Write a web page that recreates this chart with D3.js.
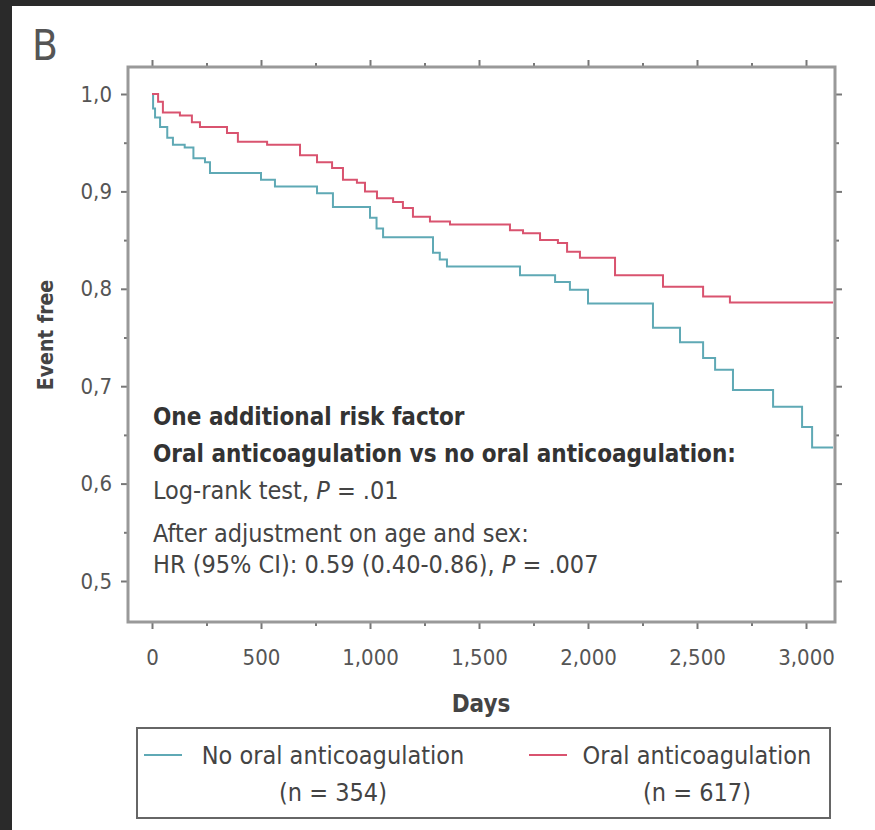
<!DOCTYPE html>
<html>
<head>
<meta charset="utf-8">
<script src="https://cdn.jsdelivr.net/npm/d3@7"></script>
<style>
  html, body { margin: 0; padding: 0; background: #2a2a2a; }
  svg { display: block; }
  text { font-family: "Liberation Sans Narrow", "DejaVu Sans Condensed", "Liberation Sans", sans-serif; }
</style>
</head>
<body>
<script>
'use strict';

// Kaplan-Meier steps: day of each drop and survival after it
var noOacDays = [0, 5, 14, 37, 70, 96, 150, 190, 243, 266, 500, 564, 757, 830, 1000, 1030, 1060,
    1289, 1320, 1353, 1688, 1849, 1917, 2000, 2298, 2422, 2528, 2583, 2665, 2849, 2982, 3028, 3124];
var noOacSurv = [1.0, 0.985, 0.976, 0.966, 0.955, 0.948, 0.945, 0.934, 0.930, 0.919, 0.912, 0.905, 0.898,
    0.884, 0.873, 0.862, 0.853, 0.837, 0.830, 0.823, 0.814, 0.807, 0.799, 0.785, 0.760, 0.745, 0.729,
    0.717, 0.696, 0.679, 0.658, 0.637, 0.637];

var oacDays = [0, 28, 50, 128, 183, 220, 344, 394, 528, 679, 757, 826, 876, 940, 977, 1032, 1106,
    1151, 1197, 1275, 1367, 1642, 1702, 1780, 1862, 1904, 1963, 2124, 2344, 2528, 2651, 3124];
var oacSurv = [1.0, 0.992, 0.981, 0.978, 0.971, 0.966, 0.960, 0.951, 0.948, 0.937, 0.930, 0.924, 0.912,
    0.909, 0.900, 0.893, 0.889, 0.883, 0.874, 0.869, 0.866, 0.860, 0.857, 0.850, 0.847, 0.838, 0.832,
    0.814, 0.802, 0.792, 0.786, 0.786];

var xTicks = [0, 500, 1000, 1500, 2000, 2500, 3000];
var yTicks = [0.5, 0.6, 0.7, 0.8, 0.9, 1.0];

var seriesNames = ['No oral anticoagulation', 'Oral anticoagulation'];
var seriesN = ['(n = 354)', '(n = 617)'];
var seriesColors = ['#5fa9b5', '#d9536f'];

var noteBold = ['One additional risk factor', 'Oral anticoagulation vs no oral anticoagulation:'];

var W = 875, H = 830;

var svg = d3.select('body').append('svg')
    .attr('width', W)
    .attr('height', H);

svg.append('rect')
    .attr('x', 12).attr('y', 6)
    .attr('width', W - 12).attr('height', H - 6)
    .attr('fill', '#ffffff');

var x = d3.scaleLinear().domain([0, 3000]).range([152, 806]);
var y = d3.scaleLinear().domain([0.5, 1.0]).range([581, 94]);

var plotL = 128, plotT = 67, plotR = 835, plotB = 622;

var commaDec = function(v) { return d3.format('.1f')(v).replace('.', ','); };

var xMinor = d3.range(250, 3100, 500);
var yMinor = [0.55, 0.65, 0.75, 0.85, 0.95];

function styleAxis(g) {
    g.select('.domain').remove();
    g.selectAll('line').attr('stroke', '#777').attr('stroke-width', 2);
    g.selectAll('text').attr('fill', '#555').style('font-size', '22px');
}

// bottom
svg.append('g')
    .attr('transform', 'translate(0,' + plotB + ')')
    .call(d3.axisBottom(x).tickValues(xTicks).tickSize(7).tickPadding(20).tickFormat(d3.format(',')))
    .call(styleAxis);
svg.append('g')
    .attr('transform', 'translate(0,' + plotB + ')')
    .call(d3.axisBottom(x).tickValues(xMinor).tickSize(4).tickFormat(''))
    .call(styleAxis);
// top
svg.append('g')
    .attr('transform', 'translate(0,' + plotT + ')')
    .call(d3.axisTop(x).tickValues(xTicks).tickSize(7).tickFormat(''))
    .call(styleAxis);
svg.append('g')
    .attr('transform', 'translate(0,' + plotT + ')')
    .call(d3.axisTop(x).tickValues(xMinor).tickSize(4).tickFormat(''))
    .call(styleAxis);
// left
svg.append('g')
    .attr('transform', 'translate(' + plotL + ',0)')
    .call(d3.axisLeft(y).tickValues(yTicks).tickSize(7).tickPadding(9).tickFormat(commaDec))
    .call(styleAxis);
svg.append('g')
    .attr('transform', 'translate(' + plotL + ',0)')
    .call(d3.axisLeft(y).tickValues(yMinor).tickSize(4).tickFormat(''))
    .call(styleAxis);
// right
svg.append('g')
    .attr('transform', 'translate(' + plotR + ',0)')
    .call(d3.axisRight(y).tickValues(yTicks).tickSize(7).tickFormat(''))
    .call(styleAxis);
svg.append('g')
    .attr('transform', 'translate(' + plotR + ',0)')
    .call(d3.axisRight(y).tickValues(yMinor).tickSize(4).tickFormat(''))
    .call(styleAxis);

svg.append('rect')
    .attr('x', plotL).attr('y', plotT)
    .attr('width', plotR - plotL).attr('height', plotB - plotT)
    .attr('fill', 'none')
    .attr('stroke', '#999')
    .attr('stroke-width', 3);

// curves
var line = d3.line()
    .x(function(d) { return x(d[0]); })
    .y(function(d) { return y(d[1]); })
    .curve(d3.curveStepAfter);

var curves = [d3.zip(noOacDays, noOacSurv), d3.zip(oacDays, oacSurv)];

svg.append('g').selectAll('path')
    .data(curves)
    .enter().append('path')
        .attr('d', line)
        .attr('fill', 'none')
        .attr('stroke', function(d, i) { return seriesColors[i]; })
        .attr('stroke-width', 2);

// labels
svg.append('text')
    .attr('x', 32).attr('y', 60)
    .attr('fill', '#555')
    .style('font-size', '42px')
    .text('B');

svg.append('text')
    .attr('transform', 'translate(53,335) rotate(-90)')
    .attr('text-anchor', 'middle')
    .attr('fill', '#444')
    .style('font-size', '21px')
    .style('font-weight', 'bold')
    .text('Event free');

svg.append('text')
    .attr('x', 481).attr('y', 712)
    .attr('text-anchor', 'middle')
    .attr('fill', '#444')
    .style('font-size', '24px')
    .style('font-weight', 'bold')
    .text('Days');

// annotation
var note = svg.append('g').attr('fill', '#333');
note.selectAll('text.b')
    .data(noteBold)
    .enter().append('text')
        .attr('class', 'b')
        .attr('x', 153)
        .attr('y', function(d, i) { return 425 + i * 37; })
        .style('font-size', '24px')
        .style('font-weight', 'bold')
        .text(function(d) { return d; });

var t3 = note.append('text').attr('x', 153).attr('y', 499)
    .attr('fill', '#444').style('font-size', '25px');
t3.append('tspan').text('Log-rank test, ');
t3.append('tspan').style('font-style', 'italic').text('P');
t3.append('tspan').text(' = .01');

note.append('text').attr('x', 153).attr('y', 542)
    .attr('fill', '#444').style('font-size', '25px')
    .text('After adjustment on age and sex:');

var t5 = note.append('text').attr('x', 153).attr('y', 573)
    .attr('fill', '#444').style('font-size', '25px');
t5.append('tspan').text('HR (95% CI): 0.59 (0.40-0.86), ');
t5.append('tspan').style('font-style', 'italic').text('P');
t5.append('tspan').text(' = .007');

// legend
var legend = svg.append('g');
legend.append('rect')
    .attr('x', 137).attr('y', 728)
    .attr('width', 693).attr('height', 90)
    .attr('fill', 'none')
    .attr('stroke', '#666')
    .attr('stroke-width', 2);

var legX = [144, 529], legTextX = [333, 697];
var items = legend.selectAll('g.item')
    .data(seriesNames)
    .enter().append('g')
        .attr('class', 'item');
items.append('line')
    .attr('x1', function(d, i) { return legX[i]; })
    .attr('x2', function(d, i) { return legX[i] + 38; })
    .attr('y1', 755).attr('y2', 755)
    .attr('stroke', function(d, i) { return seriesColors[i]; })
    .attr('stroke-width', 2);
items.append('text')
    .attr('x', function(d, i) { return legTextX[i]; })
    .attr('y', 764)
    .attr('text-anchor', 'middle')
    .attr('fill', '#444')
    .style('font-size', '25px')
    .text(function(d) { return d; });
items.append('text')
    .attr('x', function(d, i) { return legTextX[i]; })
    .attr('y', 801)
    .attr('text-anchor', 'middle')
    .attr('fill', '#444')
    .style('font-size', '25px')
    .text(function(d, i) { return seriesN[i]; });
</script>
</body>
</html>
